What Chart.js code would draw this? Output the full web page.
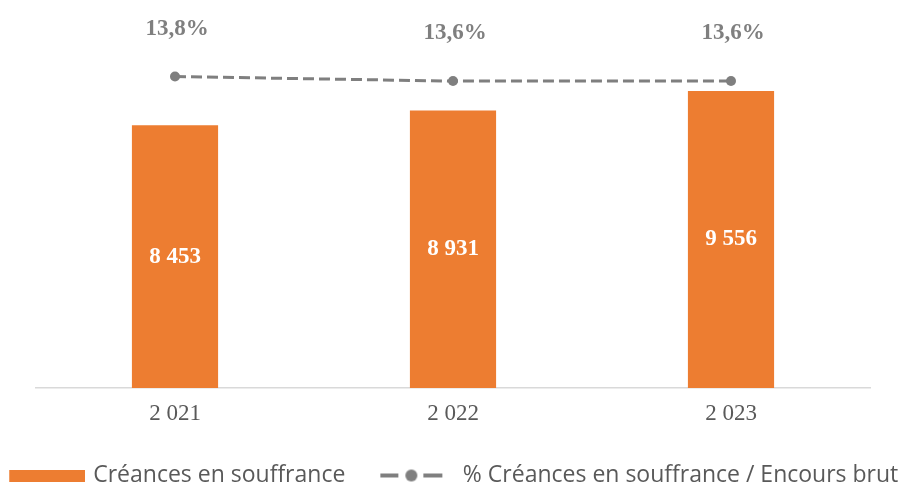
<!DOCTYPE html>
<html>
<head>
<meta charset="utf-8">
<script src="https://cdn.jsdelivr.net/npm/chart.js@4.4.1/dist/chart.umd.min.js"></script>
<style>
  html, body { margin: 0; padding: 0; background: #ffffff; }
  #wrap { width: 904px; height: 486px; }
</style>
</head>
<body>
<div id="wrap"><canvas id="c"></canvas></div>
<script>
// ---- Data ----
const categories = ['2 021', '2 022', '2 023'];
const barValues = [8453, 8931, 9556];
const pctValues = [13.8, 13.6, 13.6];
const barLabel = 'Créances en souffrance';
const lineLabel = '% Créances en souffrance / Encours brut';

// ---- Styles ----
const ORANGE = '#ED7D31';
const GREY = '#7F7F7F';
const TEXT = '#595959';

function fmtInt(v) { return String(v).replace(/\B(?=(\d{3})+(?!\d))/g, ' '); }
function fmtPct(v) { return v.toFixed(1).replace('.', ',') + '%'; }

// Legend symbols as small canvases
const LEG_W = 76;
const barImg = document.createElement('canvas');
barImg.width = 83; barImg.height = 12;
(function () {
  const g = barImg.getContext('2d');
  g.fillStyle = ORANGE;
  g.fillRect(7, 0, 76, 12);
})();
const lineImg = document.createElement('canvas');
lineImg.width = 80; lineImg.height = 14;
(function () {
  const g = lineImg.getContext('2d');
  g.fillStyle = GREY;
  g.fillRect(7, 5, 18, 4);
  g.fillRect(50, 5, 19, 4);
  g.beginPath();
  g.arc(38, 7, 6, 0, Math.PI * 2);
  g.fill();
})();

const valueLabels = {
  id: 'valueLabels',
  afterDatasetsDraw(chart) {
    const ctx = chart.ctx;
    ctx.save();
    ctx.textAlign = 'center';
    ctx.textBaseline = 'middle';
    const barMeta = chart.getDatasetMeta(0);
    ctx.fillStyle = '#FFFFFF';
    ctx.font = 'bold 23px "Liberation Serif", "Times New Roman", serif';
    barMeta.data.forEach((el, i) => {
      ctx.fillText(fmtInt(barValues[i]), el.x, (el.y + el.base) / 2);
    });
    const lineMeta = chart.getDatasetMeta(1);
    ctx.fillStyle = GREY;
    ctx.font = 'bold 23px "Liberation Serif", "Times New Roman", serif';
    lineMeta.data.forEach((el, i) => {
      ctx.fillText(fmtPct(pctValues[i]), el.x + 2, el.y - 48);
    });
    ctx.restore();
  }
};

new Chart(document.getElementById('c'), {
  data: {
    labels: categories,
    datasets: [
      {
        type: 'bar',
        label: barLabel,
        data: barValues,
        backgroundColor: ORANGE,
        yAxisID: 'y',
        categoryPercentage: 0.31,
        barPercentage: 1,
        order: 2
      },
      {
        type: 'line',
        label: lineLabel,
        data: pctValues,
        yAxisID: 'y2',
        borderColor: GREY,
        borderWidth: 3,
        borderDash: [11, 5],
        pointRadius: 5,
        pointBackgroundColor: GREY,
        pointBorderColor: GREY,
        pointBorderWidth: 0,
        fill: false,
        tension: 0,
        order: 1
      }
    ]
  },
  options: {
    responsive: true,
    maintainAspectRatio: false,
    animation: false,
    layout: { padding: { left: -30, right: -30, top: 10, bottom: -11 } },
    scales: {
      x: {
        grid: { display: false },
        border: { display: true, color: '#D9D9D9', width: 1.5 },
        ticks: {
          color: TEXT,
          padding: 4,
          font: { family: '"Liberation Serif", "Times New Roman", serif', size: 23 }
        },
        afterFit(scale) { scale.height = 46; }
      },
      y: {
        display: true, position: 'left', min: 0, max: 12166,
        grid: { display: false }, border: { display: false }, ticks: { display: false },
        afterFit(scale) { scale.width = 66; }
      },
      y2: {
        display: true, position: 'right', min: 0, max: 16.75,
        grid: { display: false }, border: { display: false }, ticks: { display: false },
        afterFit(scale) { scale.width = 64; }
      }
    },
    plugins: {
      tooltip: { enabled: false },
      legend: {
        position: 'bottom',
        labels: {
          usePointStyle: true,
          pointStyleWidth: LEG_W,
          padding: 30,
          color: TEXT,
          font: { family: '"Open Sans", sans-serif', size: 23 },
          generateLabels() {
            return [
              { text: barLabel, pointStyle: barImg, fillStyle: ORANGE, strokeStyle: ORANGE, lineWidth: 0, datasetIndex: 0, fontColor: TEXT },
              { text: lineLabel, pointStyle: lineImg, fillStyle: GREY, strokeStyle: GREY, lineWidth: 0, datasetIndex: 1, fontColor: TEXT }
            ];
          }
        }
      }
    }
  },
  plugins: [valueLabels]
});
</script>
</body>
</html>
